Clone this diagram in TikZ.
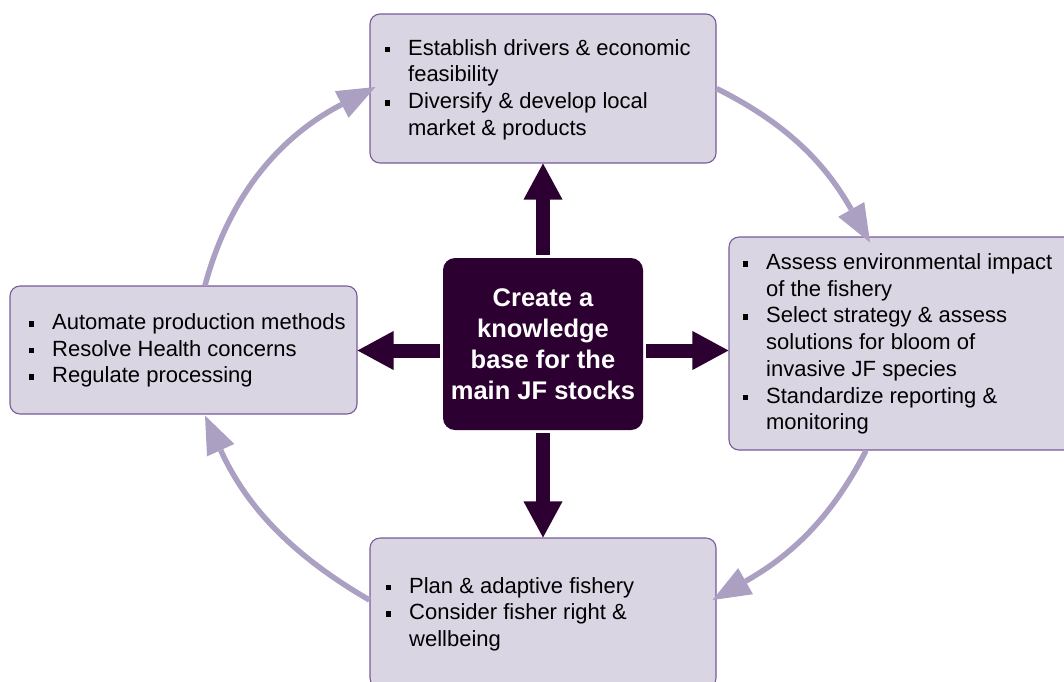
\documentclass[tikz,border=0pt]{standalone}
\usepackage{fontspec}
\setmainfont{Liberation Sans}
\usetikzlibrary{arrows.meta,calc}
\definecolor{boxfill}{HTML}{D9D5E3}
\definecolor{boxline}{HTML}{7A5A9A}
\definecolor{cyc}{HTML}{ACA0C2}
\definecolor{cdark}{HTML}{2C0030}
\newcommand\bul{\makebox[23.5pt][l]{\rule[2.7pt]{5.8pt}{5.8pt}}}
\newcommand\ind{\hspace*{23.5pt}}
\begin{document}
\begin{tikzpicture}[x=1pt,y=-1pt,
  panel/.style={draw=boxline, line width=1.1pt, fill=boxfill, rounded corners=10pt, inner sep=0pt},
  txt/.style={font=\fontsize{22}{26.7}\selectfont, align=left, anchor=west, inner sep=0pt, text=black},
  cbox/.style={fill=cdark, rounded corners=12pt, minimum width=200pt, minimum height=172pt, inner sep=0pt, text=white, align=center, font=\fontsize{25.5}{31}\selectfont\bfseries},
  blockarrow/.style={draw=cdark, line width=14pt, -{Triangle[length=36pt,width=39pt,line width=0pt]},
    postaction={draw=cdark, line width=14pt, -, shorten >=33pt}},
  loopArrow/.style={draw=cyc, line width=5.5pt, -{Triangle[length=38pt,width=30pt,line width=0pt]}}]
\useasboundingbox (0,0) rectangle (1064,681);
\clip (0,0) rectangle (1064,681);
\node[panel, minimum width=346pt, minimum height=149pt] (tb) at (543,88.5) {};
\node[panel, minimum width=346pt, minimum height=213pt] (rb) at (902,343.5) {};
\node[panel, minimum width=347pt, minimum height=128pt] (lb) at (183.5,350) {};
\node[panel, minimum width=346pt, minimum height=150pt] (bb) at (543,613) {};
\node[cbox] (cc) at (543,344) {Create a\\knowledge\\base for the\\main JF stocks};
\node[txt] (tbt) at ($(tb.west)+(15,1)$) {\bul Establish drivers \& economic\\\ind feasibility\\\bul Diversify \& develop local\\\ind market \& products};
\node[txt] (rbt) at ($(rb.west)+(14,0.5)$) {\bul Assess environmental impact\\\ind of the fishery\\\bul Select strategy \& assess\\\ind solutions for bloom of\\\ind invasive JF species\\\bul Standardize reporting \&\\\ind monitoring};
\node[txt] (lbt) at ($(lb.west)+(19,0.5)$) {\bul Automate production methods\\\bul Resolve Health concerns\\\bul Regulate processing};
\node[txt] (bbt) at ($(bb.west)+(16,1)$) {\bul Plan \& adaptive fishery\\\bul Consider fisher right \&\\\ind wellbeing};
\draw[blockarrow] ($(cc.north)+(0,-3)$) -- (tb.south);
\draw[blockarrow] ($(cc.south)+(0,3)$) -- (bb.north);
\draw[blockarrow] ($(cc.west)+(-3,6.5)$) -- ($(lb.east)+(0,0.5)$);
\draw[blockarrow] ($(cc.east)+(3,6.5)$) -- ($(rb.west)+(0,7)$);
\draw[loopArrow] ($(lb.north)+(21.5,0)$) .. controls +(26,-97) and +(-89,46) .. ($(tb.west)+(6,-1.5)$);
\draw[loopArrow] (tb.east) .. controls +(76,38) and +(-42,-74) .. ($(rb.north)+(-32,6)$);
\draw[loopArrow] ($(rb.south)+(-36,0)$) .. controls +(-38,74) and +(72,-41) .. ($(bb.east)+(-4,-13)$);
\draw[loopArrow] ($(bb.west)+(0,-13)$) .. controls +(-83,-48) and +(39,86) .. ($(lb.south)+(21.5,1)$);
\end{tikzpicture}
\end{document}
